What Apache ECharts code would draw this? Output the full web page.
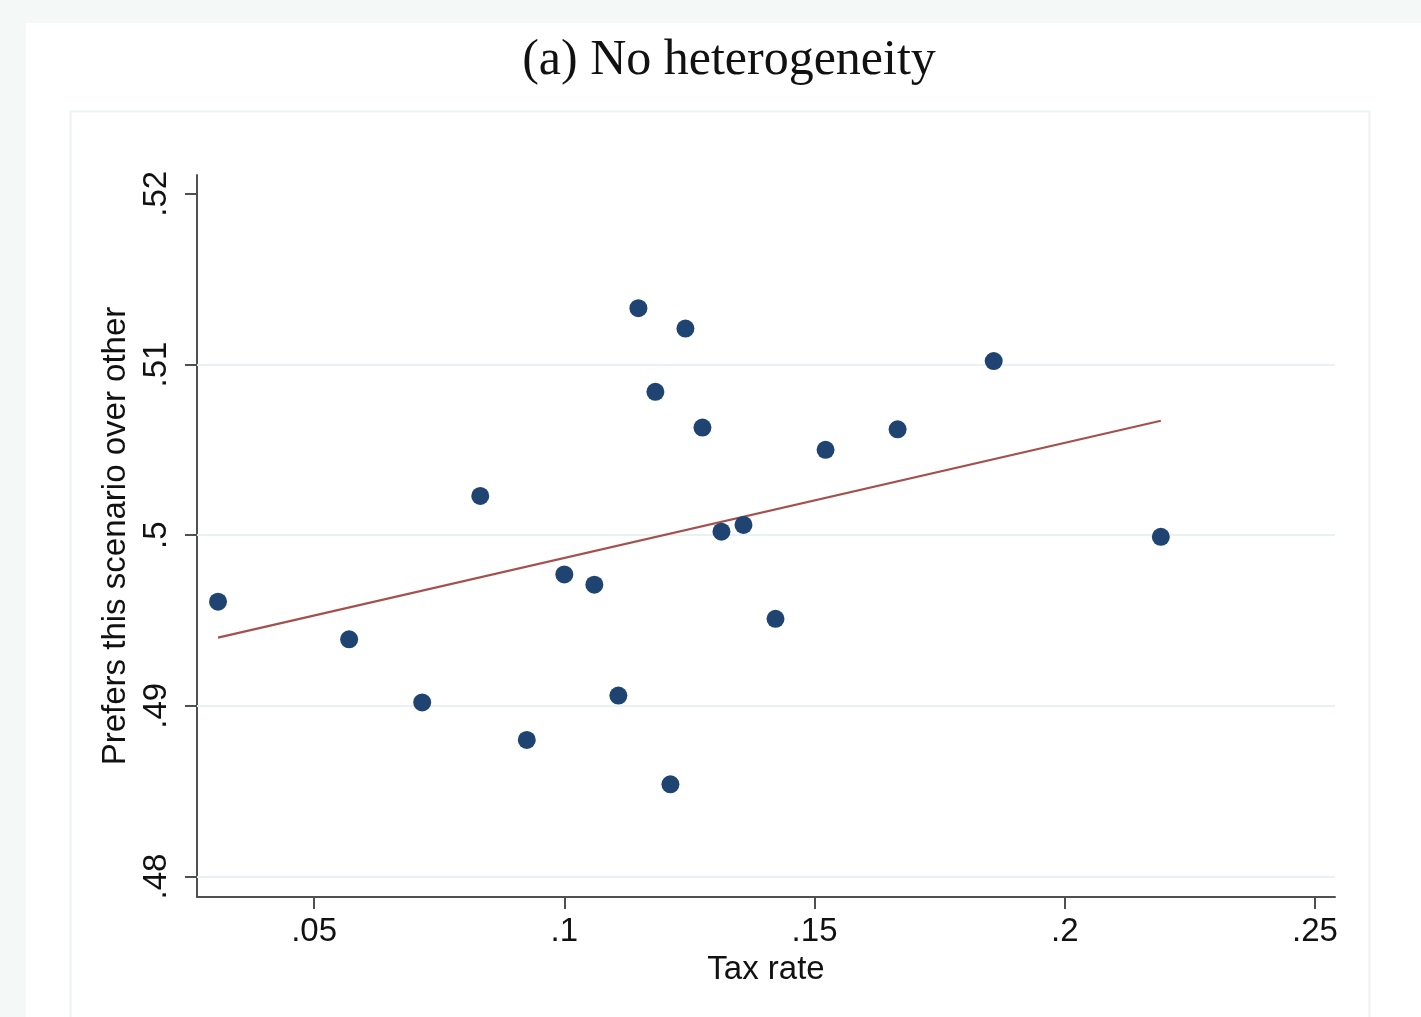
<!DOCTYPE html>
<html><head><meta charset="utf-8">
<script src="https://cdn.jsdelivr.net/npm/echarts@6/dist/echarts.min.js"></script>
<style>html,body{margin:0;padding:0;background:#f4f8f6;}#c{width:1421px;height:1017px;}</style>
</head><body><div id="c"></div>
<script>
const titleText = '(a) No heterogeneity';
const xName = 'Tax rate';
const yName = 'Prefers this scenario over other';
const xTicks = [0.05, 0.10, 0.15, 0.20, 0.25];
const xTickLabels = ['.05', '.1', '.15', '.2', '.25'];
const yTicks = [0.48, 0.49, 0.50, 0.51, 0.52];
const yTickLabels = ['.48', '.49', '.5', '.51', '.52'];
const yGrid = [0.48, 0.49, 0.50, 0.51];
const taxRate = [0.0308, 0.0570, 0.0716, 0.0832, 0.0925, 0.1000, 0.1060, 0.1108, 0.1148, 0.1182, 0.1212, 0.1242, 0.1276, 0.1314, 0.1358, 0.1422, 0.1522, 0.1666, 0.1858, 0.2192];
const prefers = [0.4961, 0.4939, 0.4902, 0.5023, 0.4880, 0.4977, 0.4971, 0.4906, 0.5133, 0.5084, 0.4854, 0.5121, 0.5063, 0.5002, 0.5006, 0.4951, 0.5050, 0.5062, 0.5102, 0.4999];
const fitX = [0.0308, 0.2192];
const fitY = [0.4940, 0.5067];

const chart = echarts.init(document.getElementById('c'));
const labelFmt = (vals, labs) => v => { for (let i = 0; i < vals.length; i++) if (Math.abs(vals[i] - v) < 1e-9) return labs[i]; return ''; };
chart.setOption({
  animation: false,
  backgroundColor: '#f4f8f6',
  graphic: [
    { type: 'rect', z: -10, shape: { x: 26, y: 23, width: 1400, height: 1000 }, style: { fill: '#ffffff' } },
    { type: 'rect', z: -9, shape: { x: 70.5, y: 111.5, width: 1299, height: 920 }, style: { fill: '#ffffff', stroke: '#eef3f2', lineWidth: 2 } }
  ],
  title: {
    text: titleText, left: 724, textAlign: 'center', top: 31,
    textStyle: { fontFamily: 'Liberation Serif', fontWeight: 'normal', fontSize: 50, color: '#111' }
  },
  grid: { left: 197, right: 86, top: 175, bottom: 120 },
  xAxis: {
    type: 'value', min: 0.0266, max: 0.254,
    name: xName, nameLocation: 'middle', nameGap: 56,
    nameTextStyle: { fontFamily: 'Liberation Sans', fontSize: 33, color: '#111' },
    axisLine: { show: true, lineStyle: { color: '#505050', width: 2 } },
    axisTick: { show: true, customValues: xTicks, length: 12, lineStyle: { color: '#505050', width: 2 } },
    axisLabel: { customValues: xTicks, formatter: labelFmt(xTicks, xTickLabels), fontFamily: 'Liberation Sans', fontSize: 33, color: '#111', margin: 18 },
    splitLine: { show: false }
  },
  yAxis: {
    type: 'value', min: 0.4788, max: 0.5211,
    name: yName, nameLocation: 'middle', nameGap: 58, nameRotate: 90,
    nameTextStyle: { fontFamily: 'Liberation Sans', fontSize: 33, color: '#111' },
    axisLine: { show: true, lineStyle: { color: '#505050', width: 2 } },
    axisTick: { show: true, customValues: yTicks, length: 12, lineStyle: { color: '#505050', width: 2 } },
    axisLabel: { customValues: yTicks, formatter: labelFmt(yTicks, yTickLabels), rotate: 90, fontFamily: 'Liberation Sans', fontSize: 33, color: '#111', margin: 24 },
    splitLine: { show: false }
  },
  series: [
    {
      type: 'line', data: fitX.map((x, i) => [x, fitY[i]]), symbol: 'none',
      lineStyle: { opacity: 0 }, z: 1, zlevel: 0, silent: true,
      markLine: {
        silent: true, symbol: 'none', label: { show: false },
        lineStyle: { color: '#e9f1f1', width: 2, type: 'solid' },
        data: yGrid.map(v => ({ yAxis: v }))
      }
    },
    {
      type: 'line', data: fitX.map((x, i) => [x, fitY[i]]), symbol: 'none',
      lineStyle: { color: '#a3504e', width: 2.2 }, z: 3, zlevel: 1
    },
    {
      type: 'scatter', data: taxRate.map((x, i) => [x, prefers[i]]),
      symbol: 'circle', symbolSize: 18,
      itemStyle: { color: '#1f4471', opacity: 1 }, z: 4, zlevel: 1
    }
  ]
});
</script></body></html>
